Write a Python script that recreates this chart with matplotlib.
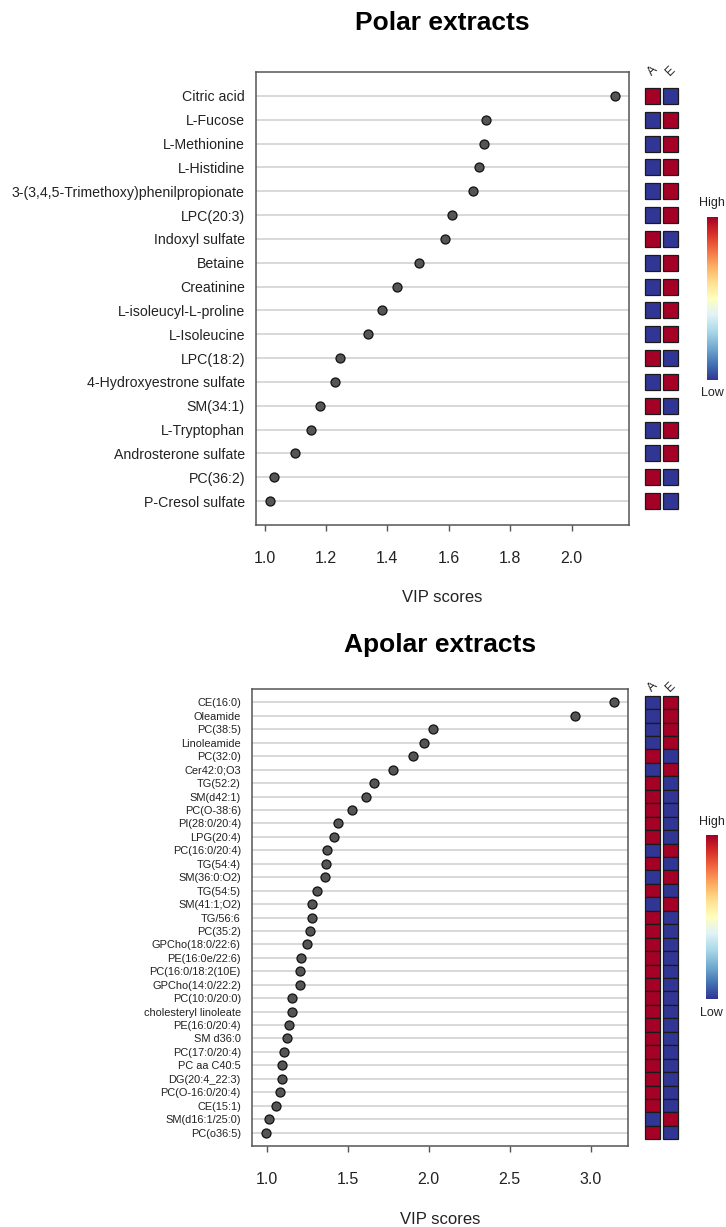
import numpy as np
import matplotlib.pyplot as plt
from matplotlib import cm

plt.rcParams['font.family'] = ['Liberation Sans', 'DejaVu Sans']

# polar extracts: metabolite, VIP score, level in group A / group E (1 = high, 0 = low)
polar_names = ["Citric acid", "L-Fucose", "L-Methionine", "L-Histidine",
               "3-(3,4,5-Trimethoxy)phenilpropionate", "LPC(20:3)", "Indoxyl sulfate",
               "Betaine", "Creatinine", "L-isoleucyl-L-proline", "L-Isoleucine",
               "LPC(18:2)", "4-Hydroxyestrone sulfate", "SM(34:1)", "L-Tryptophan",
               "Androsterone sulfate", "PC(36:2)", "P-Cresol sulfate"]
polar_vip = [2.142, 1.720, 1.716, 1.699, 1.679, 1.609, 1.587, 1.503, 1.430,
             1.384, 1.338, 1.246, 1.228, 1.180, 1.152, 1.100, 1.031, 1.017]
polar_A = [1, 0, 0, 0, 0, 0, 1, 0, 0, 0, 0, 1, 0, 1, 0, 0, 1, 1]
polar_E = [0, 1, 1, 1, 1, 1, 0, 1, 1, 1, 1, 0, 1, 0, 1, 1, 0, 0]

# apolar extracts
apolar_names = ["CE(16:0)", "Oleamide", "PC(38:5)", "Linoleamide", "PC(32:0)",
                "Cer42:0;O3", "TG(52:2)", "SM(d42:1)", "PC(O-38:6)", "PI(28:0/20:4)",
                "LPG(20:4)", "PC(16:0/20:4)", "TG(54:4)", "SM(36:0:O2)", "TG(54:5)",
                "SM(41:1;O2)", "TG/56:6", "PC(35:2)", "GPCho(18:0/22:6)",
                "PE(16:0e/22:6)", "PC(16:0/18:2(10E)", "GPCho(14:0/22:2)",
                "PC(10:0/20:0)", "cholesteryl linoleate", "PE(16:0/20:4)", "SM d36:0",
                "PC(17:0/20:4)", "PC aa C40:5", "DG(20:4_22:3)", "PC(O-16:0/20:4)",
                "CE(15:1)", "SM(d16:1/25:0)", "PC(o36:5)"]
apolar_vip = [3.143, 2.904, 2.025, 1.971, 1.902, 1.777, 1.662, 1.615, 1.529, 1.443,
              1.418, 1.373, 1.369, 1.363, 1.310, 1.277, 1.277, 1.266, 1.250, 1.211,
              1.205, 1.203, 1.156, 1.154, 1.137, 1.125, 1.107, 1.098, 1.092, 1.080,
              1.059, 1.012, 0.996]
apolar_A = [0, 0, 0, 0, 1, 0, 1, 1, 1, 1, 1, 0, 1, 0, 1, 0, 1, 1, 1, 1, 1, 1, 1, 1,
            1, 1, 1, 1, 1, 1, 1, 0, 1]
apolar_E = [1 - v for v in apolar_A]

groups = ["A", "E"]

W, H = 726, 1227
fig = plt.figure(figsize=(W / 100, H / 100), dpi=100)
cmap = plt.get_cmap('RdYlBu_r')


def box(x0, x1, y0, y1):
    # pixel box -> figure fraction
    return [x0 / W, 1 - y1 / H, (x1 - x0) / W, (y1 - y0) / H]


def panel(names, vip, lev_a, lev_e, dot_box, heat_box, cb_box, title, title_y,
          lab_size, xticks, xlim, xlabel_y, cell_h, lab_y, hi_y, lo_y):
    n = len(names)
    y = np.arange(1, n + 1)
    ax = fig.add_axes(box(*dot_box))
    for yy in y:
        ax.axhline(yy, color='#d6d6d6', lw=1.3, zorder=1)
    ax.scatter(vip, y, s=42, color='#555555', edgecolor='#111111', lw=0.9, zorder=3)
    ax.set_ylim(n + 1, 0)
    ax.set_xlim(*xlim)
    ax.set_yticks(y)
    ax.set_yticklabels(names, fontsize=lab_size, color='#222222')
    ax.tick_params(axis='y', length=0, pad=8)
    ax.set_xticks(xticks)
    ax.set_xticklabels(["%.1f" % t for t in xticks], fontsize=11.5, color='#222222')
    ax.tick_params(axis='x', length=4, width=1, color='#555555', pad=15)
    for s in ax.spines.values():
        s.set_color('#555555')
        s.set_linewidth(1.1)
    fig.text(((dot_box[0] + dot_box[1]) / 2) / W, 1 - xlabel_y / H, "VIP scores",
             ha='center', va='center', fontsize=12, color='#222222')
    fig.text(((dot_box[0] + dot_box[1]) / 2) / W, 1 - title_y / H, title,
             ha='center', va='center', fontsize=19, fontweight='bold')

    # heatmap of group levels
    hx = fig.add_axes(box(*heat_box))
    for j, lev in enumerate([lev_a, lev_e]):
        hx.barh(y, 0.87, left=j - 0.435, height=cell_h,
                color=[cmap(0.999 if v else 0.0) for v in lev],
                edgecolor='#1a1a1a', lw=0.9)
        hx.text(j, lab_y, groups[j], rotation=45, ha='center', va='bottom',
                fontsize=9, color='#222222', clip_on=False)
    hx.set_ylim(n + 1, 0)
    hx.set_xlim(-0.5, 1.5)
    hx.axis('off')

    cx = fig.add_axes(box(*cb_box))
    grad = np.linspace(0, 1, 256).reshape(-1, 1)
    cx.imshow(grad, cmap=cmap, aspect='auto', origin='lower')
    cx.axis('off')
    xc = ((cb_box[0] + cb_box[1]) / 2) / W
    fig.text(xc, 1 - hi_y / H, "High", ha='center', va='center', fontsize=9, color='#222222')
    fig.text(xc, 1 - lo_y / H, "Low", ha='center', va='center', fontsize=9, color='#222222')


panel(polar_names, polar_vip, polar_A, polar_E,
      dot_box=(256, 629, 72, 525), heat_box=(643.5, 679.5, 72, 525),
      cb_box=(706.5, 717.5, 217, 380), title="Polar extracts", title_y=23,
      lab_size=10.2, xticks=[1.0, 1.2, 1.4, 1.6, 1.8, 2.0], xlim=(0.972, 2.187),
      xlabel_y=598, cell_h=0.67, lab_y=0.25, hi_y=203, lo_y=393)

panel(apolar_names, apolar_vip, apolar_A, apolar_E,
      dot_box=(252, 628, 689, 1146), heat_box=(643.5, 679.5, 689, 1146),
      cb_box=(706, 717.5, 835, 999), title="Apolar extracts", title_y=645,
      lab_size=7.9, xticks=[1.0, 1.5, 2.0, 2.5, 3.0], xlim=(0.91, 3.229),
      xlabel_y=1220, cell_h=1.0, lab_y=0.35, hi_y=822, lo_y=1013)

fig.savefig("out.png", dpi=100)
